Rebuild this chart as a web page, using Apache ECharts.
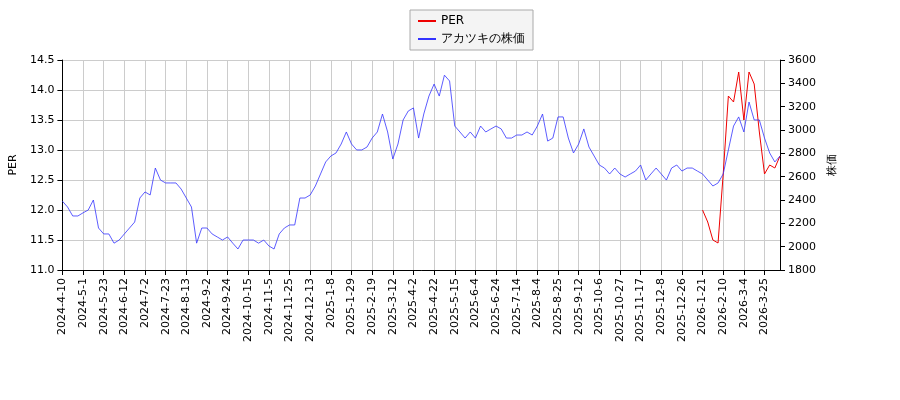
<!DOCTYPE html>
<html><head><meta charset="utf-8">
<script src="https://cdn.jsdelivr.net/npm/echarts@6/dist/echarts.min.js"></script>
<style>html,body{margin:0;background:#fff}#c{width:900px;height:400px}</style>
</head><body><div id="c"></div>
<script>
const tickLabels = ["2024-4-10","2024-5-1","2024-5-23","2024-6-12","2024-7-2","2024-7-23","2024-8-13","2024-9-2","2024-9-24","2024-10-15","2024-11-5","2024-11-25","2024-12-13","2025-1-8","2025-1-29","2025-2-19","2025-3-12","2025-4-2","2025-4-22","2025-5-15","2025-6-4","2025-6-24","2025-7-14","2025-8-4","2025-8-25","2025-9-12","2025-10-6","2025-10-27","2025-11-17","2025-12-8","2025-12-26","2026-1-21","2026-2-10","2026-3-4","2026-3-25"];
const price = [
2390,2340,2263,2263, 2290,2314,2400,2160, 2109,2109,2030,2057, 2109,2160,2211,2417,
2469,2443,2674,2571, 2546,2546,2546,2494, 2417,2340,2030,2160, 2160,2109,2083,2057,
2083,2030,1980,2057, 2057,2057,2030,2057, 2006,1980,2109,2160, 2186,2186,2417,2417,
2443,2520,2623,2726, 2777,2803,2880,2983, 2880,2829,2829,2854, 2931,2983,3137,2983,
2751,2880,3086,3163, 3189,2931,3137,3291, 3394,3291,3470,3420, 3034,2983,2931,2983,
2931,3034,2983,3009, 3034,3009,2931,2931, 2957,2957,2983,2957, 3034,3137,2905,2931,
3112,3112,2931,2803, 2880,3009,2854,2777, 2700,2674,2623,2674, 2623,2597,2623,2648,
2700,2571,2623,2674, 2623,2571,2674,2700, 2648,2674,2674,2648, 2623,2571,2520,2546,
2623,2829,3034,3112, 2983,3240,3086,3086, 2931,2803,2726,2777];
const perTail = [12.0,11.8,11.5,11.45,12.6,13.9,13.8,14.3,13.5,14.3,14.1,13.3,12.6,12.75,12.7,12.9];
const perData = new Array(124).fill(null).concat(perTail);
const cats = [];
tickLabels.forEach(t => { for (let k = 0; k < 4; k++) cats.push(k ? t + '|' + k : t); });
const categories = cats.slice(0, price.length);
const ax = {color:'#000',fontSize:11,fontFamily:'DejaVu Sans'};
const chart = echarts.init(document.getElementById('c'));
chart.setOption({
  animation:false,
  legend:{top:10,left:410,orient:'vertical',itemWidth:18,itemHeight:2,itemGap:6,
    borderColor:'#aaa',borderWidth:1,padding:[5,8],backgroundColor:'#f4f4f4',
    textStyle:{fontSize:12,fontFamily:'DejaVu Sans',color:'#000'},
    data:[{name:'PER',icon:'rect'},{name:'アカツキの株価',icon:'rect'}]},
  grid:{left:61,right:120,top:60,bottom:130},
  xAxis:{type:'category',data:categories,boundaryGap:false,
    axisLine:{lineStyle:{color:'#000'}},axisTick:{interval:3,lineStyle:{color:'#000'}},
    axisLabel:Object.assign({interval:3,rotate:90,formatter:v=>v.split('|')[0]},ax),
    splitLine:{show:true,interval:3,lineStyle:{color:'#ccc'}}},
  yAxis:[{type:'value',min:11,max:14.5,interval:0.5,name:'PER',nameLocation:'middle',nameGap:36,
    nameTextStyle:ax,axisLabel:Object.assign({formatter:v=>v.toFixed(1)},ax),
    axisLine:{show:true,lineStyle:{color:'#000'}},axisTick:{show:true},splitLine:{lineStyle:{color:'#ccc'}}},
   {type:'value',min:1800,max:3600,interval:200,name:'株価',nameLocation:'middle',nameGap:45,
    nameTextStyle:ax,axisLabel:Object.assign({formatter:v=>String(v)},ax),axisLine:{show:true,lineStyle:{color:'#000'}},axisTick:{show:true},splitLine:{show:false}}],
  series:[
   {name:'PER',type:'line',data:perData,yAxisIndex:0,symbol:'none',lineStyle:{color:'#e00',width:1},itemStyle:{color:'#e00'}},
   {name:'アカツキの株価',type:'line',data:price,yAxisIndex:1,symbol:'none',lineStyle:{color:'#33f',width:0.8},itemStyle:{color:'#33f'}}
  ]
});
</script></body></html>
